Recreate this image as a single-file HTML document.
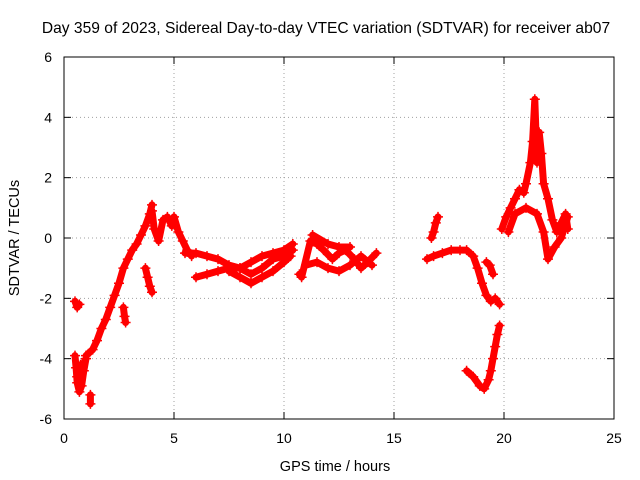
<!DOCTYPE html>
<html><head><meta charset="utf-8"><style>
body{margin:0;background:#fff;}
svg{display:block;font-family:"Liberation Sans",sans-serif;}
</style></head><body>
<svg id="chart" width="640" height="480">
<rect width="640" height="480" fill="#fff"/>
<text x="326" y="33" font-size="15.6" text-anchor="middle">Day 359 of 2023, Sidereal Day-to-day VTEC variation (SDTVAR) for receiver ab07</text>
<text x="335" y="471" font-size="14.5" text-anchor="middle">GPS time / hours</text>
<text transform="translate(19,238) rotate(-90)" font-size="14.5" text-anchor="middle">SDTVAR / TECUs</text>
<g id="grid"></g>
<g id="axes"></g>
<g id="marks"></g>
<rect x="64" y="57" width="550" height="362" fill="none" stroke="#000" stroke-width="1"/>
</svg>
<script>
const xTicks=[0,5,10,15,20,25];
const yTicks=[-6,-4,-2,0,2,4,6];
// strands of observations (hours, TECU)
const s1x=[0.5,0.6,0.7];
const s1y=[-2.1,-2.3,-2.2];
const s2x=[0.5,0.55,0.6,0.7,0.8,0.9,1.0,0.6,0.75];
const s2y=[-3.9,-4.3,-4.8,-5.1,-4.9,-4.4,-4.0,-4.6,-4.2];
const s3x=[1.2,1.2];
const s3y=[-5.2,-5.5];
const s4x=[1.0,1.3,1.5,1.7,1.9,2.1,2.3,2.5,2.7,2.9,3.1,3.3,3.5,3.7,3.9,4.0];
const s4y=[-3.9,-3.7,-3.4,-3.0,-2.7,-2.3,-1.9,-1.5,-1.0,-0.7,-0.4,-0.2,0.1,0.4,0.8,1.1];
const s5x=[2.7,2.75,2.8];
const s5y=[-2.3,-2.6,-2.8];
const s6x=[3.7,3.8,3.9,4.0];
const s6y=[-1.0,-1.3,-1.6,-1.8];
const s7x=[4.0,4.1,4.3,4.5,4.7,4.9,5.0,5.2,5.4,5.6,5.8];
const s7y=[0.9,0.3,-0.1,0.6,0.7,0.4,0.7,0.2,-0.1,-0.4,-0.6];
const s8x=[5.5,6,6.5,7,7.5,8,8.5,9,9.5,10,10.4];
const s8y=[-0.5,-0.5,-0.6,-0.7,-0.9,-1.0,-1.2,-1.0,-0.7,-0.6,-0.4];
const s9x=[6,6.5,7,7.5,8,8.5,9,9.5,10,10.4];
const s9y=[-1.3,-1.2,-1.1,-1.0,-1.0,-0.8,-0.6,-0.5,-0.4,-0.2];
const s10x=[7.5,8,8.5,9,9.5,10,10.3];
const s10y=[-1.1,-1.3,-1.5,-1.3,-1.1,-0.8,-0.6];
const s11x=[10.7,10.8,11.2,11.5,11.8,12.2,12.5,12.8,13.2,13.5,13.8,14.2];
const s11y=[-1.2,-1.3,-0.1,-0.2,-0.4,-0.7,-0.5,-0.4,-0.7,-1.0,-0.8,-0.5];
const s12x=[11,11.5,12,12.5,13,13.5,14];
const s12y=[-0.9,-0.8,-1.0,-1.1,-0.9,-0.6,-0.9];
const s13x=[11.3,12,12.5,13];
const s13y=[0.1,-0.2,-0.3,-0.3];
const s14x=[16.7,16.8,16.9,17.0];
const s14y=[0.0,0.2,0.5,0.7];
const s15x=[16.5,16.8,17.2,17.6,18,18.3,18.6,18.8,19,19.2,19.4,19.6,19.8];
const s15y=[-0.7,-0.6,-0.5,-0.4,-0.4,-0.4,-0.6,-1.0,-1.5,-1.9,-2.1,-2.0,-2.2];
const s16x=[19.2,19.35,19.5];
const s16y=[-0.8,-0.9,-1.2];
const s17x=[18.3,18.6,18.9,19.1,19.3,19.4,19.5,19.6,19.7,19.8];
const s17y=[-4.4,-4.6,-4.9,-5.0,-4.7,-4.4,-4.0,-3.6,-3.2,-2.9];
const s18x=[19.9,20.1,20.3,20.5,20.7,20.9,21.0,21.2,21.3,21.4,21.5,21.6,21.7,21.8,22,22.2,22.4,22.6,22.8,22.9];
const s18y=[0.3,0.7,1.0,1.3,1.6,1.5,1.8,2.5,3.2,4.6,2.5,3.5,2.8,1.8,1.3,0.6,0.2,0.5,0.8,0.3];
const s19x=[20.2,20.5,21,21.5,21.8,22,22.3,22.6,22.9];
const s19y=[0.2,0.8,1.0,0.8,0.2,-0.7,-0.3,0.0,0.7];
const strandsX=[s1x,s2x,s3x,s4x,s5x,s6x,s7x,s8x,s9x,s10x,s11x,s12x,s13x,s14x,s15x,s16x,s17x,s18x,s19x];
const strandsY=[s1y,s2y,s3y,s4y,s5y,s6y,s7y,s8y,s9y,s10y,s11y,s12y,s13y,s14y,s15y,s16y,s17y,s18y,s19y];

const NS="http://www.w3.org/2000/svg";
const X0=64,X1=614,Y0=419,Y1=57;
const sx=v=>X0+(v-0)/(25-0)*(X1-X0);
const sy=v=>Y0-(v+6)/12*(Y0-Y1);
function mk(tag,attrs,parent){const e=document.createElementNS(NS,tag);for(const k in attrs)e.setAttribute(k,attrs[k]);parent.appendChild(e);return e;}
const grid=document.getElementById('grid'),axes=document.getElementById('axes'),marks=document.getElementById('marks');
xTicks.forEach(t=>{
  const x=sx(t);
  if(t>0&&t<25){const g=mk('line',{x1:x,x2:x,y1:Y1,y2:Y0,stroke:'#a0a0a0','stroke-dasharray':'1,3'},grid);
  
  }
  mk('line',{x1:x,x2:x,y1:Y0,y2:Y0-7,stroke:'#000'},axes);
  mk('line',{x1:x,x2:x,y1:Y1,y2:Y1+7,stroke:'#000'},axes);
  const l=mk('text',{x:x,y:443,'font-size':14,'text-anchor':'middle'},axes);l.textContent=t;
  
  
});
yTicks.forEach(t=>{
  const y=sy(t);
  if(t>-6&&t<6){const g=mk('line',{x1:X0,x2:X1,y1:y,y2:y,stroke:'#a0a0a0','stroke-dasharray':'1,3'},grid);
  
  }
  mk('line',{x1:X0,x2:X0+7,y1:y,y2:y,stroke:'#000'},axes);
  mk('line',{x1:X1,x2:X1-7,y1:y,y2:y,stroke:'#000'},axes);
  const l=mk('text',{x:52,y:y+5,'font-size':14,'text-anchor':'end'},axes);l.textContent=t;
  
  
});
strandsX.forEach((xs,i)=>{
  const ys=strandsY[i];
  const pts=xs.map((v,j)=>sx(v)+','+sy(ys[j])).join(' ');
  const pl=mk('polyline',{points:pts,fill:'none',stroke:'#f00','stroke-width':7,'stroke-linejoin':'round','stroke-linecap':'round'},marks);
  
  
  xs.forEach((v,j)=>{
    const cx=sx(v),cy=sy(ys[j]);
    const p=mk('path',{d:`M${cx-5},${cy}h10M${cx},${cy-5}v10`,stroke:'#f00','stroke-width':1.5},marks);
    
    
  });
});
</script>
</body></html>
